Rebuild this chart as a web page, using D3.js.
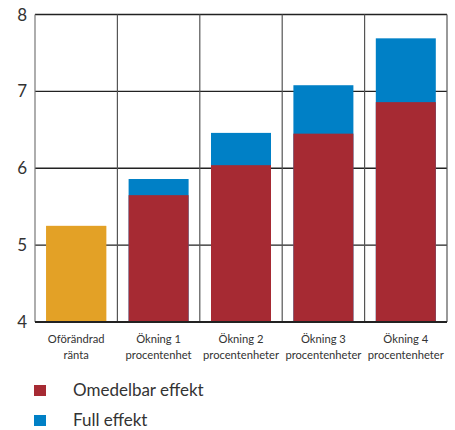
<!DOCTYPE html>
<html>
<head>
<meta charset="utf-8">
<script src="https://cdn.jsdelivr.net/npm/d3@7"></script>
<style>
  body { margin: 0; background: #fff; }
  svg text { font-family: Lato, "Open Sans", sans-serif; fill: #333; }
</style>
</head>
<body>
<svg id="chart" width="455" height="430"></svg>
<script>
// category labels (two lines each)
const categories = ['Oförändrad\nränta', 'Ökning 1\nprocentenhet', 'Ökning 2\nprocentenheter', 'Ökning 3\nprocentenheter', 'Ökning 4\nprocentenheter'];
// immediate effect (red) and full effect (blue top) in percent
const omedelbar = [5.25, 5.65, 6.04, 6.45, 6.86];
const full = [5.25, 5.86, 6.46, 7.08, 7.69];
const yTicks = [4, 5, 6, 7, 8];
const legendLabels = ['Omedelbar effekt', 'Full effekt'];

const colors = { base: '#E3A126', omedelbar: '#A62A33', full: '#0080C6' };

const svg = d3.select('#chart');
const margin = { top: 14.5, right: 8, bottom: 108, left: 35 };
const width = 455 - margin.left - margin.right;
const height = 430 - margin.top - margin.bottom;

const g = svg.append('g').attr('transform', `translate(${margin.left},${margin.top})`);

const x = d3.scaleBand().domain(categories).range([0, width]).paddingInner(0).paddingOuter(0);
const y = d3.scaleLinear().domain([4, 8]).range([height, 0]);

// horizontal grid lines
g.selectAll('.hgrid')
  .data(yTicks)
  .enter()
  .append('line')
  .attr('x1', 0).attr('x2', width)
  .attr('y1', d => y(d)).attr('y2', d => y(d))
  .attr('stroke', '#222')
  .attr('stroke-width', d => d === 4 ? 2 : 1.4);

// vertical dividers between categories
const bounds = categories.map(c => x(c)).concat([width]);
g.selectAll('.vgrid')
  .data(bounds)
  .enter()
  .append('line')
  .attr('x1', d => d).attr('x2', d => d)
  .attr('y1', 0).attr('y2', height)
  .attr('stroke', (d, i) => i === 0 ? '#777' : '#555')
  .attr('stroke-width', 1.2);

const barW = 60;
const off = (x.bandwidth() - barW) / 2;

// full effect (blue) drawn behind
g.selectAll('.full')
  .data(categories)
  .enter()
  .append('rect')
  .attr('x', d => x(d) + off)
  .attr('width', barW)
  .attr('y', (d, i) => y(full[i]))
  .attr('height', (d, i) => y(4) - y(full[i]))
  .attr('fill', (d, i) => i === 0 ? colors.base : colors.full);

// immediate effect (red)
g.selectAll('.omed')
  .data(categories)
  .enter()
  .append('rect')
  .attr('x', d => x(d) + off)
  .attr('width', barW)
  .attr('y', (d, i) => y(omedelbar[i]))
  .attr('height', (d, i) => y(4) - y(omedelbar[i]))
  .attr('fill', (d, i) => i === 0 ? colors.base : colors.omedelbar);

// redraw bottom axis line on top
g.append('line')
  .attr('x1', 0).attr('x2', width)
  .attr('y1', y(4)).attr('y2', y(4))
  .attr('stroke', '#222').attr('stroke-width', 2);

// y tick labels
g.selectAll('.ylab')
  .data(yTicks)
  .enter()
  .append('text')
  .attr('x', -8)
  .attr('y', d => y(d) + 6)
  .attr('text-anchor', 'end')
  .style('font-size', '17px')
  .text(d => d);

// category labels
g.selectAll('.xlab')
  .data(categories)
  .enter()
  .append('text')
  .attr('text-anchor', 'middle')
  .attr('transform', d => `translate(${x(d) + x.bandwidth() / 2},${height + 21})`)
  .style('font-size', '11.2px')
  .each(function (d) {
    const lines = d.split('\n');
    d3.select(this).selectAll('tspan')
      .data(lines)
      .enter()
      .append('tspan')
      .attr('x', 0)
      .attr('dy', (l, i) => i === 0 ? 0 : 16)
      .text(l => l);
  });

// legend
const legend = svg.append('g');
const legendColors = [colors.omedelbar, colors.full];
legendLabels.forEach((lab, i) => {
  legend.append('rect')
    .attr('x', 34).attr('y', 385 + i * 30)
    .attr('width', 12).attr('height', 11)
    .attr('fill', legendColors[i]);
  legend.append('text')
    .attr('x', 73).attr('y', 396 + i * 30)
    .style('font-size', '17px')
    .text(lab);
});
</script>
</body>
</html>
